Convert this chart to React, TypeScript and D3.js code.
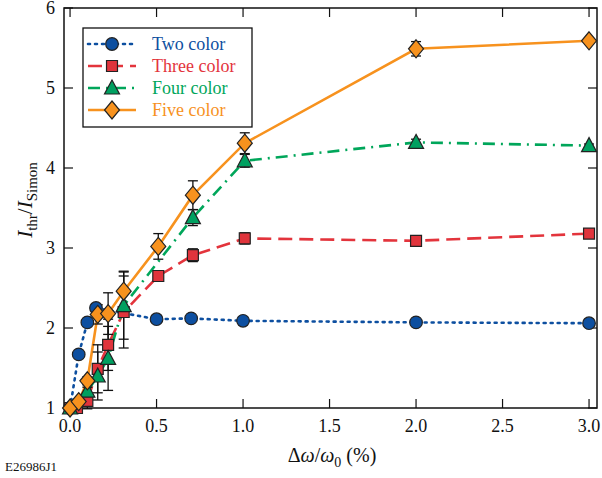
import React, {useRef, useEffect} from 'react';
import * as d3 from 'd3';

// x values (%), y values, error bars
const twoX = [0.0, 0.05, 0.1, 0.15, 0.5, 0.7, 1.0, 2.0, 3.0];
const twoY = [1.0, 1.67, 2.07, 2.25, 2.11, 2.12, 2.09, 2.07, 2.06];
const twoErr = [0, 0, 0, 0.04, 0, 0, 0, 0, 0];

const threeX = [0.0, 0.04, 0.1, 0.16, 0.22, 0.31, 0.51, 0.71, 1.01, 2.0, 3.0];
const threeY = [1.0, 1.0, 1.09, 1.49, 1.79, 2.2, 2.65, 2.91, 3.12, 3.09, 3.18];
const threeErr = [0, 0, 0.1, 0.3, 0.32, 0.45, 0.04, 0.08, 0.07, 0.03, 0.02];

const fourX = [0.0, 0.1, 0.16, 0.22, 0.31, 0.71, 1.01, 2.0, 3.0];
const fourY = [1.0, 1.21, 1.4, 1.62, 2.28, 3.38, 4.09, 4.32, 4.28];
const fourErr = [0, 0.05, 0.3, 0.4, 0.42, 0.1, 0.08, 0.04, 0.02];

const fiveX = [0.0, 0.05, 0.1, 0.16, 0.22, 0.31, 0.51, 0.71, 1.01, 2.0, 3.0];
const fiveY = [1.0, 1.08, 1.34, 2.17, 2.18, 2.46, 3.02, 3.66, 4.31, 5.49, 5.59];
const fiveErr = [0, 0, 0.05, 0.12, 0.26, 0.25, 0.16, 0.18, 0.13, 0.09, 0.02];

const xTicks = [0, 0.5, 1.0, 1.5, 2.0, 2.5, 3.0];
const yTicks = [1, 2, 3, 4, 5, 6];

const seriesNames = ['Two color', 'Three color', 'Four color', 'Five color'];

function App() {
  const canvas = useRef<HTMLDivElement>(null);

  useEffect(() => {
    document.body.style.margin = '0';
    const W = 602, H = 478;
    const left = 64, right = 597, top = 8, bottom = 408;

    d3.select(canvas.current).select('svg').remove();
    const svg = d3.select(canvas.current)
      .append('svg')
      .attr('width', W)
      .attr('height', H)
      .attr('font-family', "'Liberation Serif', 'Times New Roman', Tinos, 'DejaVu Serif', serif")
      .style('display', 'block');

    const x = d3.scaleLinear().domain([-0.035, 3.046]).range([left, right]);
    const y = d3.scaleLinear().domain([1, 6]).range([bottom, top]);

    // frame
    svg.append('rect')
      .attr('x', left).attr('y', top)
      .attr('width', right - left).attr('height', bottom - top)
      .attr('fill', 'none').attr('stroke', '#111').attr('stroke-width', 1.5);

    // inward ticks
    const tl = 9;
    xTicks.forEach(t => {
      svg.append('line').attr('x1', x(t)).attr('x2', x(t)).attr('y1', bottom).attr('y2', bottom - tl)
        .attr('stroke', '#111').attr('stroke-width', 1.2);
      svg.append('line').attr('x1', x(t)).attr('x2', x(t)).attr('y1', top).attr('y2', top + tl)
        .attr('stroke', '#111').attr('stroke-width', 1.2);
      svg.append('text').attr('x', x(t)).attr('y', bottom + 24)
        .attr('text-anchor', 'middle').style('font-size', '18px').attr('fill', '#111')
        .text(d3.format('.1f')(t));
    });
    yTicks.forEach(t => {
      svg.append('line').attr('x1', left).attr('x2', left + tl).attr('y1', y(t)).attr('y2', y(t))
        .attr('stroke', '#111').attr('stroke-width', 1.2);
      svg.append('line').attr('x1', right).attr('x2', right - tl).attr('y1', y(t)).attr('y2', y(t))
        .attr('stroke', '#111').attr('stroke-width', 1.2);
      svg.append('text').attr('x', 55).attr('y', y(t) + 6)
        .attr('text-anchor', 'end').style('font-size', '18px').attr('fill', '#111')
        .text(t);
    });

    // axis labels
    const xl = svg.append('text').attr('x', 332).attr('y', 462)
      .attr('text-anchor', 'middle').style('font-size', '20px').attr('fill', '#111');
    xl.append('tspan').text('\u0394');
    xl.append('tspan').style('font-style', 'italic').text('\u03c9');
    xl.append('tspan').text('/');
    xl.append('tspan').style('font-style', 'italic').text('\u03c9');
    xl.append('tspan').attr('dy', 5).style('font-size', '14px').text('0');
    xl.append('tspan').attr('dy', -5).text(' (%)');

    const yl = svg.append('text')
      .attr('transform', 'translate(32,200) rotate(-90)')
      .attr('text-anchor', 'middle').style('font-size', '21px').attr('fill', '#111');
    yl.append('tspan').style('font-style', 'italic').text('I');
    yl.append('tspan').attr('dy', 5).style('font-size', '15px').text('thr');
    yl.append('tspan').attr('dy', -5).text('/');
    yl.append('tspan').style('font-style', 'italic').text('I');
    yl.append('tspan').attr('dy', 5).style('font-size', '15px').text('Simon');

    svg.append('text').attr('x', 5).attr('y', 471)
      .style('font-size', '13px').attr('fill', '#111').text('E26986J1');

    const series = [
      {xs: twoX, ys: twoY, err: twoErr, color: '#0d4fa0', fill: '#0d4fa0', dash: '2,5', cap: 'round', shape: 'circle'},
      {xs: threeX, ys: threeY, err: threeErr, color: '#e3343c', fill: '#e0343c', dash: '14,7', cap: 'butt', shape: 'square'},
      {xs: fourX, ys: fourY, err: fourErr, color: '#00a65a', fill: '#00a060', dash: '12,6,2,6', cap: 'butt', shape: 'triangle'},
      {xs: fiveX, ys: fiveY, err: fiveErr, color: '#f7921e', fill: '#f7921e', dash: null, cap: 'butt', shape: 'diamond'},
    ];

    const symbolPath = (shape: string) => {
      if (shape === 'circle') return d3.symbol(d3.symbolCircle, 125)();
      if (shape === 'square') return d3.symbol(d3.symbolSquare, 120)();
      if (shape === 'triangle') return 'M0,-8L7.5,6L-7.5,6Z';
      return 'M0,-9L7.5,0L0,9L-7.5,0Z';
    };

    const line = d3.line<number[]>().x(d => x(d[0])).y(d => y(d[1]));

    series.forEach(s => {
      const pts = s.xs.map((v, i) => [v, s.ys[i]]);
      svg.append('path').datum(pts)
        .attr('d', line)
        .attr('fill', 'none')
        .attr('stroke', s.color)
        .attr('stroke-width', 2.6)
        .attr('stroke-linecap', s.cap)
        .attr('stroke-dasharray', s.dash);
    });

    series.forEach(s => {
      s.xs.forEach((v, i) => {
        const e = s.err[i];
        if (e > 0) {
          const cx = x(v);
          svg.append('line').attr('x1', cx).attr('x2', cx).attr('y1', y(s.ys[i] - e)).attr('y2', y(s.ys[i] + e))
            .attr('stroke', '#111').attr('stroke-width', 1.3);
          [s.ys[i] - e, s.ys[i] + e].forEach(yy => {
            svg.append('line').attr('x1', cx - 5).attr('x2', cx + 5).attr('y1', y(yy)).attr('y2', y(yy))
              .attr('stroke', '#111').attr('stroke-width', 1.3);
          });
        }
      });
    });

    series.forEach(s => {
      s.xs.forEach((v, i) => {
        svg.append('path')
          .attr('d', symbolPath(s.shape))
          .attr('transform', `translate(${x(v)},${y(s.ys[i])})`)
          .attr('fill', s.fill)
          .attr('stroke', '#222')
          .attr('stroke-width', 1.2);
      });
    });

    // legend
    const lg = svg.append('g');
    lg.append('rect').attr('x', 83).attr('y', 28).attr('width', 169).attr('height', 99)
      .attr('fill', 'white').attr('stroke', '#111').attr('stroke-width', 1.3);
    series.forEach((s, i) => {
      const yy = 44 + i * 22;
      lg.append('line').attr('x1', 88).attr('x2', 136).attr('y1', yy).attr('y2', yy)
        .attr('stroke', s.color).attr('stroke-width', 2.6)
        .attr('stroke-linecap', s.cap)
        .attr('stroke-dasharray', s.dash);
      lg.append('path').attr('d', symbolPath(s.shape))
        .attr('transform', `translate(112,${yy})`)
        .attr('fill', s.fill).attr('stroke', '#222').attr('stroke-width', 1.2);
      lg.append('text').attr('x', 152).attr('y', yy + 6)
        .style('font-size', '18px').attr('fill', s.color)
        .text(seriesNames[i]);
    });
  }, []);

  return <div ref={canvas}></div>;
}

export default App;
